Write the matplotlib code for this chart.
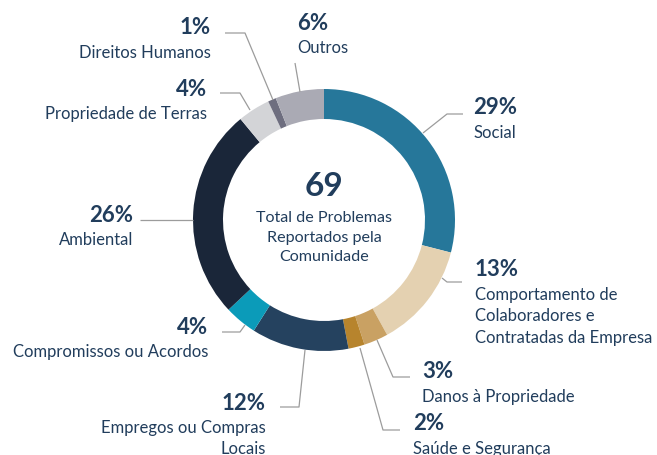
import matplotlib.pyplot as plt

# issues reported by the community, share of total (clockwise from top)
categories = [
    "Social",
    "Comportamento de\nColaboradores e\nContratadas da Empresa",
    "Danos à Propriedade",
    "Saúde e Segurança",
    "Empregos ou Compras\nLocais",
    "Compromissos ou Acordos",
    "Ambiental",
    "Propriedade de Terras",
    "Direitos Humanos",
    "Outros",
]
shares = [29, 13, 3, 2, 12, 4, 26, 4, 1, 6]
total_issues = 69
center_caption = "Total de Problemas\nReportados pela\nComunidade"

colors = ["#26779a", "#e4d1b1", "#c9a163", "#b7842d", "#25425f",
          "#0b9bb9", "#1a2639", "#d3d4d7", "#6e6e7f", "#aaaab4"]

W, H = 657, 455
TXT = "#213d5c"
LINE = "#9c9c9c"
plt.rcParams["font.family"] = ["Lato", "DejaVu Sans"]


def Y(y):
    return H - y


fig = plt.figure(figsize=(W / 100, H / 100), dpi=100)
ax = fig.add_axes([0, 0, 1, 1])

cx, cy, r = 324, 220, 131
ax.pie(shares, colors=colors, startangle=90, counterclock=False,
       center=(cx, Y(cy)), radius=r, frame=True,
       wedgeprops=dict(width=30, linewidth=0))
ax.set_xlim(0, W)
ax.set_ylim(0, H)
ax.set_aspect("equal")
ax.axis("off")

# leader line paths and label anchors (x, y of percent, align)
leaders = [
    [(423, 133), (447, 114), (463, 114)],
    [(442, 278), (447, 282), (462, 282)],
    [(377, 340), (393, 377), (410, 377)],
    [(360, 348), (383, 430), (400, 430)],
    [(305, 350), (299, 407), (280, 407)],
    [(245, 325), (240, 332), (222, 332)],
    [(193, 220), (140, 220)],
    [(250, 110), (240, 93), (220, 93)],
    [(273, 100), (245, 33), (225, 33)],
    [(300, 92), (295, 63)],
]
anchors = [
    (473, 108, "left"),
    (475, 270, "left"),
    (422, 372, "left"),
    (413, 424, "left"),
    (266, 403, "right"),
    (208, 327, "right"),
    (133, 215, "right"),
    (207, 89, "right"),
    (211, 28, "right"),
    (297, 23, "left"),
]

for path, (x, y, ha), share, name in zip(leaders, anchors, shares, categories):
    xs = [p[0] for p in path]
    ys = [Y(p[1]) for p in path]
    ax.plot(xs, ys, color=LINE, lw=0.9, solid_capstyle="butt")
    ax.text(x, Y(y), f"{share}%", ha=ha, va="center", fontsize=16,
            fontweight="bold", color=TXT)
    ax.text(x, Y(y + 17), name, ha=ha, va="top", fontsize=12,
            color=TXT, linespacing=1.42, multialignment=ha)

ax.text(cx, Y(186), str(total_issues), ha="center", va="center",
        fontsize=24, fontweight="bold", color=TXT)
ax.text(cx, Y(211), center_caption, ha="center", va="top", fontsize=11.6,
        color=TXT, linespacing=1.52)

fig.savefig("out.png", dpi=100)
